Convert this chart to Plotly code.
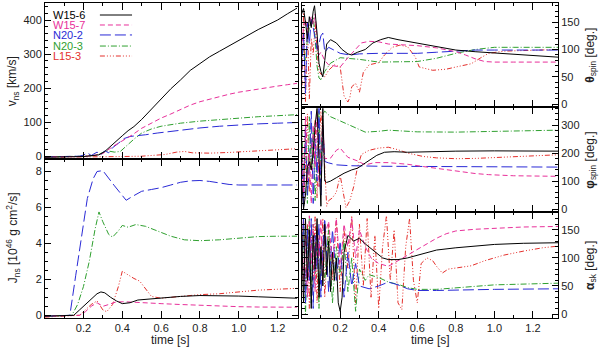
import plotly.graph_objects as go

# models and styles
MODELS = ["W15-6", "W15-7", "N20-2", "N20-3", "L15-3"]
COLORS = {"W15-6": "#000000", "W15-7": "#e8309a", "N20-2": "#2a2ad6",
          "N20-3": "#2fa02f", "L15-3": "#e4302c"}
DASHES = {"W15-6": "solid", "W15-7": "5px,3px", "N20-2": "11px,4px",
          "N20-3": "6px,2px,1px,2px", "L15-3": "5px,2px,1px,2px,1px,2px,1px,2px"}

# ---- v_ns [km/s]
vt_w156 = [0, 0.05, 0.1, 0.15, 0.2, 0.25, 0.28, 0.31, 0.34, 0.37, 0.40, 0.43, 0.46, 0.50, 0.55, 0.60,
           0.65, 0.70, 0.75, 0.80, 0.85, 0.90, 0.95, 1.00, 1.05, 1.10, 1.15, 1.20, 1.25, 1.30]
v_w156 = [-3, -3, -3, -2, -1, 2, 4, 14, 30, 45, 60, 75, 87, 108, 138, 168,
          198, 224, 252, 272, 292, 308, 324, 340, 358, 372, 386, 400, 418, 435]
vt_w157 = [0, 0.1, 0.2, 0.25, 0.30, 0.35, 0.40, 0.45, 0.50, 0.55, 0.60, 0.65, 0.70, 0.75, 0.80,
           0.85, 0.90, 0.95, 1.00, 1.05, 1.10, 1.15, 1.20, 1.25, 1.30]
v_w157 = [-2, -2, -1, 2, 8, 28, 45, 62, 82, 98, 112, 124, 137, 150, 160,
          168, 175, 182, 188, 193, 198, 202, 206, 210, 214]
vt_n202 = [0, 0.1, 0.18, 0.20, 0.22, 0.24, 0.27, 0.29, 0.31, 0.33, 0.35, 0.38, 0.41, 0.44, 0.48,
           0.52, 0.58, 0.65, 0.72, 0.80, 0.90, 1.00, 1.10, 1.20, 1.30]
v_n202 = [-2, -2, 0, 3, 10, 2, 12, 4, 16, 10, 25, 38, 52, 58, 60,
          63, 68, 73, 78, 83, 88, 92, 95, 97, 99]
vt_n203 = [0, 0.1, 0.2, 0.25, 0.28, 0.32, 0.36, 0.39, 0.42, 0.46, 0.50, 0.55, 0.60, 0.65, 0.70,
           0.80, 0.90, 1.00, 1.10, 1.20, 1.30]
v_n203 = [-2, -2, 0, 2, 6, 16, 12, 14, 30, 50, 68, 80, 88, 93, 97,
          103, 108, 112, 116, 119, 122]
vt_l153 = [0, 0.1, 0.2, 0.3, 0.4, 0.5, 0.55, 0.62, 0.68, 0.72, 0.76, 0.85, 0.95, 1.05, 1.15, 1.25, 1.30]
v_l153 = [-3, -3, -2, -1, -1, 0, 2, 5, 12, 14, 10, 9, 11, 14, 17, 20, 22]

# ---- J_ns [1e46 g cm^2/s]
jt_w156 = [0, 0.15, 0.18, 0.21, 0.24, 0.27, 0.29, 0.31, 0.34, 0.37, 0.40, 0.44, 0.48, 0.55, 0.62,
           0.70, 0.80, 0.90, 1.00, 1.10, 1.20, 1.30]
j_w156 = [-0.05, 0, 0.3, 0.6, 0.9, 1.2, 1.3, 1.25, 1.0, 0.8, 0.65, 0.7, 0.85, 0.92, 0.97,
          1.05, 1.1, 1.1, 1.07, 1.03, 1.0, 0.95]
jt_w157 = [0, 0.18, 0.21, 0.24, 0.27, 0.30, 0.33, 0.37, 0.42, 0.50, 0.60, 0.70, 0.80, 0.90, 1.00,
           1.10, 1.20, 1.30]
j_w157 = [-0.05, 0, 0.2, 0.5, 0.7, 0.5, 0.6, 0.75, 0.75, 0.72, 0.65, 0.6, 0.55, 0.5, 0.48,
          0.46, 0.45, 0.45]
jt_n202 = [0, 0.13, 0.16, 0.19, 0.22, 0.25, 0.27, 0.30, 0.33, 0.36, 0.39, 0.42, 0.45, 0.50, 0.55,
           0.60, 0.65, 0.70, 0.75, 0.80, 0.85, 0.90, 0.95, 1.00, 1.10, 1.20, 1.30]
j_n202 = [-0.05, 0, 2.2, 4.5, 6.5, 7.6, 8.0, 8.05, 7.6, 7.2, 6.8, 6.4, 6.6, 6.9, 7.0,
          7.1, 7.25, 7.4, 7.48, 7.5, 7.45, 7.35, 7.28, 7.25, 7.25, 7.25, 7.25]
jt_n203 = [0, 0.14, 0.17, 0.20, 0.23, 0.26, 0.28, 0.30, 0.33, 0.35, 0.38, 0.40, 0.43, 0.47, 0.52,
           0.58, 0.65, 0.72, 0.80, 0.90, 1.00, 1.10, 1.20, 1.30]
j_n203 = [-0.05, 0, 0.6, 1.6, 3.0, 4.8, 5.75, 5.2, 4.5, 4.35, 4.7, 5.0, 4.9, 5.05, 4.95,
          4.7, 4.4, 4.2, 4.15, 4.2, 4.3, 4.38, 4.4, 4.4]
jt_l153 = [0, 0.18, 0.21, 0.24, 0.27, 0.30, 0.32, 0.35, 0.38, 0.40, 0.43, 0.46, 0.49, 0.52, 0.55,
           0.60, 0.70, 0.80, 0.90, 1.00, 1.10, 1.20, 1.30]
j_l153 = [-0.1, 0, 0.3, 0.6, 0.8, 0.3, 0.2, 0.6, 1.6, 2.45, 2.25, 2.05, 1.9, 1.5, 1.05,
          0.95, 1.05, 1.15, 1.2, 1.3, 1.4, 1.45, 1.5]

# ---- theta_spin [deg.]
tht_w156 = [0.0, 0.01, 0.02, 0.03, 0.04, 0.05, 0.06, 0.067, 0.08, 0.09, 0.10, 0.11, 0.12, 0.13, 0.15,
            0.18, 0.21, 0.24, 0.26, 0.29, 0.33, 0.37, 0.41, 0.45, 0.50, 0.55, 0.60, 0.70, 0.80,
            0.90, 1.00, 1.10, 1.20, 1.33]
th_w156 = [165, 175, 150, 120, 160, 140, 170, 180, 130, 75, 60, 50, 80, 110, 118,
           112, 100, 92, 90, 95, 100, 112, 118, 122, 118, 115, 112, 105, 99,
           96, 94, 91, 89, 86]
tht_w157 = [0.0, 0.01, 0.02, 0.03, 0.04, 0.05, 0.06, 0.07, 0.08, 0.09, 0.10, 0.12, 0.14, 0.17, 0.20,
            0.24, 0.28, 0.31, 0.35, 0.40, 0.45, 0.50, 0.60, 0.70, 0.80, 0.85, 0.90, 0.95, 1.00,
            1.10, 1.20, 1.33]
th_w157 = [100, 140, 155, 130, 150, 160, 145, 165, 120, 90, 95, 80, 72, 70, 68,
           85, 100, 112, 115, 114, 110, 109, 107, 103, 96, 90, 83, 78, 77,
           77, 77, 77]
tht_n202 = [0.0, 0.01, 0.02, 0.03, 0.04, 0.05, 0.06, 0.07, 0.08, 0.09, 0.10, 0.11, 0.12, 0.14, 0.17,
            0.20, 0.25, 0.30, 0.40, 0.50, 0.60, 0.70, 0.80, 0.90, 1.00, 1.20, 1.33]
th_n202 = [60, 130, 20, 150, 110, 155, 140, 120, 100, 110, 125, 130, 95, 104, 98,
           93, 90, 92, 93, 93, 93, 95, 97, 99, 99, 99, 99]
tht_n203 = [0.0, 0.01, 0.02, 0.03, 0.04, 0.05, 0.06, 0.07, 0.08, 0.09, 0.10, 0.12, 0.15, 0.20, 0.25,
            0.30, 0.40, 0.50, 0.60, 0.70, 0.80, 0.90, 1.00, 1.10, 1.20, 1.33]
th_n203 = [90, 100, 80, 120, 140, 150, 160, 120, 70, 48, 45, 60, 75, 85, 84,
           82, 77, 77, 78, 84, 93, 100, 104, 104, 104, 104]
tht_l153 = [0.0, 0.01, 0.02, 0.03, 0.04, 0.05, 0.06, 0.07, 0.08, 0.09, 0.10, 0.12, 0.14, 0.17, 0.20,
            0.22, 0.24, 0.25, 0.26, 0.28, 0.30, 0.32, 0.35, 0.40, 0.43, 0.47, 0.51, 0.55, 0.59,
            0.61, 0.68, 0.75, 0.80, 0.88, 0.93, 0.97, 1.05, 1.20, 1.33]
th_l153 = [5, 170, 5, 150, 10, 120, 90, 150, 100, 60, 55, 50, 62, 72, 68,
           15, 4, 12, 32, 38, 22, 58, 72, 76, 90, 104, 108, 105, 86,
           68, 62, 64, 68, 74, 85, 93, 97, 99, 100]

# ---- phi_spin [deg.]
pht_w156 = [0.0, 0.01, 0.02, 0.03, 0.04, 0.05, 0.06, 0.07, 0.08, 0.09, 0.10, 0.11, 0.12, 0.13, 0.15,
            0.18, 0.22, 0.26, 0.29, 0.32, 0.35, 0.39, 0.43, 0.48, 0.55, 0.65, 0.80, 1.00, 1.20, 1.33]
ph_w156 = [100, 0, 50, 150, 170, 140, 200, 300, 360, 200, 10, 360, 100, 95, 100,
           112, 128, 140, 146, 160, 175, 192, 203, 205, 203, 205, 207, 208, 208, 207]
pht_w157 = [0.0, 0.01, 0.02, 0.03, 0.04, 0.05, 0.06, 0.07, 0.08, 0.09, 0.10, 0.11, 0.12, 0.15, 0.18,
            0.20, 0.24, 0.29, 0.33, 0.38, 0.45, 0.55, 0.63, 0.70, 0.80, 0.90, 0.97, 1.10, 1.33]
ph_w157 = [250, 60, 330, 100, 200, 20, 300, 150, 350, 80, 220, 300, 180, 182, 210,
           218, 185, 172, 158, 166, 166, 160, 152, 145, 135, 127, 123, 119, 117]
pht_n202 = [0.0, 0.01, 0.02, 0.03, 0.04, 0.05, 0.06, 0.07, 0.08, 0.09, 0.10, 0.11, 0.12, 0.14, 0.18,
            0.25, 0.40, 0.60, 0.80, 1.00, 1.33]
ph_n202 = [200, 10, 300, 50, 150, 350, 20, 250, 100, 360, 50, 300, 170, 165, 158,
           155, 153, 152, 151, 150, 150]
pht_n203 = [0.0, 0.01, 0.02, 0.03, 0.04, 0.05, 0.06, 0.07, 0.08, 0.09, 0.10, 0.11, 0.12, 0.15, 0.20,
            0.25, 0.30, 0.33, 0.40, 0.45, 0.50, 0.60, 0.80, 1.00, 1.20, 1.33]
ph_n203 = [320, 100, 250, 20, 330, 150, 280, 30, 200, 350, 120, 340, 350, 330, 315,
           300, 285, 275, 278, 282, 280, 276, 275, 277, 280, 282]
pht_l153 = [0.0, 0.01, 0.02, 0.03, 0.04, 0.05, 0.06, 0.07, 0.08, 0.09, 0.10, 0.11, 0.12, 0.13, 0.14,
            0.16, 0.18, 0.20, 0.22, 0.23, 0.25, 0.27, 0.29, 0.31, 0.35, 0.40, 0.45, 0.50, 0.55,
            0.63, 0.70, 0.80, 0.90, 1.00, 1.20, 1.33]
ph_l153 = [300, 20, 150, 340, 60, 250, 180, 320, 40, 200, 350, 230, 150, 10, 30,
           40, 60, 120, 40, 5, 30, 80, 150, 195, 210, 218, 221, 212, 200,
           188, 183, 180, 181, 184, 190, 194]

# ---- alpha_sk [deg.]
alt_w156 = [0.0, 0.01, 0.02, 0.03, 0.04, 0.05, 0.06, 0.07, 0.08, 0.09, 0.10, 0.11, 0.12, 0.13, 0.14,
            0.15, 0.16, 0.17, 0.18, 0.19, 0.20, 0.21, 0.22, 0.24, 0.27, 0.30, 0.33, 0.38, 0.42,
            0.45, 0.50, 0.55, 0.63, 0.70, 0.80, 0.90, 1.00, 1.15, 1.33]
al_w156 = [160, 20, 170, 60, 150, 10, 140, 80, 170, 30, 120, 50, 160, 70, 130,
           40, 110, 60, 100, 20, 5, 30, 110, 140, 130, 135, 125, 112, 100,
           97, 97, 100, 108, 114, 118, 121, 124, 126, 127]
alt_w157 = [0.0, 0.01, 0.02, 0.03, 0.04, 0.05, 0.06, 0.07, 0.08, 0.09, 0.10, 0.11, 0.12, 0.14, 0.16,
            0.18, 0.20, 0.22, 0.24, 0.26, 0.28, 0.30, 0.33, 0.36, 0.40, 0.45, 0.50, 0.55, 0.60,
            0.65, 0.70, 0.75, 0.80, 0.90, 1.00, 1.15, 1.33]
al_w157 = [170, 60, 140, 30, 175, 90, 160, 40, 150, 100, 170, 60, 140, 165, 90,
           170, 80, 160, 120, 170, 100, 150, 120, 100, 90, 85, 95, 105, 115,
           125, 135, 143, 148, 151, 153, 155, 156]
alt_n202 = [0.0, 0.01, 0.02, 0.03, 0.04, 0.05, 0.06, 0.07, 0.08, 0.09, 0.10, 0.11, 0.12, 0.14, 0.16,
            0.18, 0.20, 0.22, 0.24, 0.26, 0.28, 0.30, 0.35, 0.40, 0.45, 0.50, 0.55, 0.60, 0.70,
            0.80, 1.00, 1.33]
al_n202 = [100, 170, 20, 150, 60, 170, 10, 140, 80, 160, 30, 120, 170, 40, 150,
           60, 130, 30, 110, 50, 90, 50, 45, 50, 57, 52, 45, 42, 42,
           43, 44, 45]
alt_n203 = [0.0, 0.01, 0.02, 0.03, 0.04, 0.05, 0.06, 0.07, 0.08, 0.09, 0.10, 0.12, 0.14, 0.16, 0.18,
            0.20, 0.22, 0.24, 0.26, 0.28, 0.30, 0.33, 0.35, 0.40, 0.45, 0.50, 0.55, 0.60, 0.70,
            0.80, 0.90, 1.00, 1.33]
al_n203 = [50, 150, 0, 120, 170, 20, 160, 60, 140, 10, 110, 60, 150, 20, 120,
           70, 130, 40, 100, 5, 80, 60, 70, 65, 57, 53, 47, 44, 44,
           47, 50, 52, 55]
alt_l153 = [0.0, 0.01, 0.02, 0.03, 0.04, 0.05, 0.06, 0.07, 0.08, 0.09, 0.10, 0.11, 0.12, 0.14, 0.16,
            0.18, 0.20, 0.22, 0.24, 0.26, 0.28, 0.30, 0.32, 0.34, 0.36, 0.38, 0.40, 0.42, 0.44,
            0.46, 0.48, 0.50, 0.52, 0.54, 0.56, 0.58, 0.60, 0.62, 0.65, 0.68, 0.70, 0.73, 0.76,
            0.80, 0.88, 0.95, 1.05, 1.15, 1.25, 1.33]
al_l153 = [30, 170, 50, 160, 10, 150, 60, 175, 20, 140, 90, 170, 30, 160, 60,
           170, 40, 150, 80, 175, 20, 160, 50, 170, 30, 140, 10, 120, 175,
           60, 150, 20, 8, 120, 170, 60, 20, 90, 100, 95, 85, 73, 80,
           82, 86, 95, 105, 112, 118, 121]

PANELS = [
    ("x", "y", [(vt_w156, v_w156), (vt_w157, v_w157), (vt_n202, v_n202), (vt_n203, v_n203), (vt_l153, v_l153)]),
    ("x2", "y2", [(jt_w156, j_w156), (jt_w157, j_w157), (jt_n202, j_n202), (jt_n203, j_n203), (jt_l153, j_l153)]),
    ("x3", "y3", [(tht_w156, th_w156), (tht_w157, th_w157), (tht_n202, th_n202), (tht_n203, th_n203), (tht_l153, th_l153)]),
    ("x4", "y4", [(pht_w156, ph_w156), (pht_w157, ph_w157), (pht_n202, ph_n202), (pht_n203, ph_n203), (pht_l153, ph_l153)]),
    ("x5", "y5", [(alt_w156, al_w156), (alt_w157, al_w157), (alt_n202, al_n202), (alt_n203, al_n203), (alt_l153, al_l153)]),
]

fig = go.Figure()
for xa, ya, series in PANELS:
    # draw in reverse so black ends on top
    for model, (t, y) in reversed(list(zip(MODELS, series))):
        fig.add_scatter(x=t, y=y, xaxis=xa, yaxis=ya, mode="lines", name=model,
                        showlegend=False,
                        line=dict(color=COLORS[model], dash=DASHES[model], width=1))

FONT = "Liberation Sans, Arial, sans-serif"
TXT = "#222"
base = dict(showline=True, linecolor="black", linewidth=1, mirror="ticks",
            ticks="inside", ticklen=6, tickcolor="black", tickwidth=1,
            showgrid=False, zeroline=False, automargin=False,
            tickfont=dict(size=11, color=TXT))


def xax(domain, anchor, rng, labels):
    return dict(base, domain=domain, anchor=anchor, range=rng,
                tickmode="linear", tick0=0.2, dtick=0.2, tickformat=".1f",
                showticklabels=labels, ticklen=7,
                minor=dict(ticks="inside", ticklen=3, dtick=0.1, tickcolor="black"))


def yax(domain, anchor, rng, dtick, mdtick, side="left"):
    return dict(base, domain=domain, anchor=anchor, range=rng, side=side,
                tickmode="linear", tick0=0, dtick=dtick,
                minor=dict(ticks="inside", ticklen=3, dtick=mdtick, tickcolor="black"))


LX = [0, 0.4932]
RX = [0.501, 1]
fig.update_layout(
    width=600, height=350,
    margin=dict(l=45, r=42, t=3, b=32),
    paper_bgcolor="white", plot_bgcolor="white",
    font=dict(family=FONT, size=12, color=TXT),
    showlegend=False,
    xaxis=xax(LX, "y", [0.002, 1.305], False),
    xaxis2=xax(LX, "y2", [0.002, 1.305], True),
    xaxis3=xax(RX, "y3", [0.002, 1.33], False),
    xaxis4=xax(RX, "y4", [0.002, 1.33], False),
    xaxis5=xax(RX, "y5", [0.002, 1.33], True),
    yaxis=yax([0.505, 1], "x", [-8, 450], 100, 20),
    yaxis2=yax([0, 0.505], "x2", [-0.15, 8.7], 2, 0.5),
    yaxis3=yax([0.670, 1], "x3", [-5, 185], 50, 10, "right"),
    yaxis4=yax([0.337, 0.670], "x4", [-10, 365], 100, 20, "right"),
    yaxis5=yax([0, 0.337], "x5", [-7, 182], 50, 10, "right"),
)

# axis titles
YTITLES = [
    ("v<sub>ns</sub> [km/s]", -0.062, 0.752),
    ("J<sub>ns</sub> [10<sup>46</sup> g cm<sup>2</sup>/s]", -0.062, 0.254),
    ("<b>θ</b><sub>spin</sub> [deg.]", 1.064, 0.835),
    ("<b>φ</b><sub>spin</sub> [deg.]", 1.064, 0.502),
    ("<b>α</b><sub>sk</sub> [deg.]", 1.064, 0.168),
]
for text, xx, yy in YTITLES:
    fig.add_annotation(xref="paper", yref="paper", x=xx, y=yy, text=text, textangle=-90,
                       showarrow=False, xanchor="center", yanchor="middle",
                       font=dict(size=12, color=TXT, family=FONT))
for xx in [0.2456, 0.7505]:
    fig.add_annotation(xref="paper", yref="paper", x=xx, y=-0.07, text="time [s]",
                       showarrow=False, xanchor="center", yanchor="middle",
                       font=dict(size=12, color=TXT, family=FONT))

# legend drawn like the original: label, then line sample
leg_y = [0.923, 0.859, 0.795, 0.724, 0.660]
for model, yy in zip(MODELS, leg_y):
    fig.add_annotation(xref="x domain", yref="y domain", x=0.022, y=yy, text=model,
                       showarrow=False, xanchor="left", yanchor="middle",
                       font=dict(size=11, color=COLORS[model], family=FONT))
    fig.add_shape(type="line", xref="x domain", yref="y domain", x0=0.217, x1=0.344,
                  y0=yy, y1=yy, line=dict(color=COLORS[model], dash=DASHES[model], width=1))

# the page's default body margin would push the 600x350 figure out of the window
fig.write_html("out.html", config={"displayModeBar": False},
               post_script="document.body.style.margin='0px';")
